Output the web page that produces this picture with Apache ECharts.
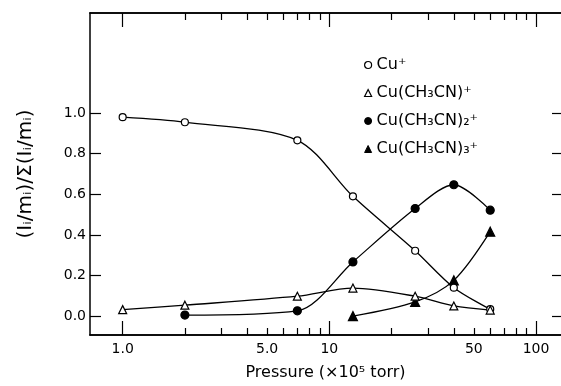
<!DOCTYPE html>
<html>
<head>
<meta charset="utf-8">
<script src="https://cdn.jsdelivr.net/npm/echarts@6/dist/echarts.min.js"></script>
<style>
html,body{margin:0;padding:0;background:#fff;}
#chart{width:561px;height:386px;}
</style>
</head>
<body>
<div id="chart"></div>
<script>
// Pressure (x10^5 torr)
const pressure = [1, 2, 7, 13, 26, 40, 60];
const cuPlus      = [0.98, 0.955, 0.866, 0.59, 0.322, 0.14, 0.034];
const cuMono      = [0.032, 0.054, 0.098, 0.138, 0.098, 0.05, 0.03];
const cuDi        = [null, 0.005, 0.026, 0.267, 0.53, 0.647, 0.522];
const cuTri       = [null, null, null, 0.0, 0.07, 0.176, 0.416];

const seriesNames = ['Cu⁺', 'Cu(CH₃CN)⁺', 'Cu(CH₃CN)₂⁺', 'Cu(CH₃CN)₃⁺'];
const xMajorTicks = [1, 10, 100];
const xMinorTicks = [2, 3, 4, 5, 6, 7, 8, 9, 20, 30, 40, 50, 60, 70, 80, 90];
const xTickLabels = [1, 5, 10, 50, 100];
const yTickValues = [0, 0.2, 0.4, 0.6, 0.8, 1.0];

function pairs(ys) {
  const out = [];
  for (let i = 0; i < pressure.length; i++) {
    if (ys[i] !== null) out.push([pressure[i], ys[i]]);
  }
  return out;
}

const FONT = 'DejaVu Sans';
const xMin = 0.695, xMax = 132;
const yMin = -0.093, yMax = 1.493;

function xAxisBase(extra) {
  return Object.assign({
    type: 'log',
    logBase: 10,
    min: xMin,
    max: xMax,
    splitLine: { show: false },
    axisLine: { show: true, onZero: false, lineStyle: { color: '#000', width: 1.5 } },
    axisLabel: { show: false },
    axisTick: { show: false }
  }, extra);
}

const chart = echarts.init(document.getElementById('chart'), null, { renderer: 'canvas' });

const markerStyle = { color: '#000', borderColor: '#000', borderWidth: 1.2 };
const lineStyle = { color: '#000', width: 1.3 };

chart.setOption({
  animation: false,
  backgroundColor: '#fff',
  textStyle: { fontFamily: FONT, color: '#000' },
  grid: { left: 90, right: 0, top: 13, bottom: 48, containLabel: false, show: false },
  legend: {
    orient: 'vertical',
    left: 359,
    top: 52,
    itemWidth: 7,
    itemHeight: 7,
    itemGap: 12,
    textStyle: { fontFamily: FONT, fontSize: 16, color: '#000' },
    selectedMode: false,
    data: [
      { name: seriesNames[0], icon: 'circle', itemStyle: { color: '#fff', borderColor: '#000', borderWidth: 1.2 } },
      { name: seriesNames[1], icon: 'triangle', itemStyle: { color: '#fff', borderColor: '#000', borderWidth: 1.2 } },
      { name: seriesNames[2], icon: 'circle', itemStyle: { color: '#000', borderColor: '#000', borderWidth: 1 } },
      { name: seriesNames[3], icon: 'triangle', itemStyle: { color: '#000', borderColor: '#000', borderWidth: 1 } }
    ]
  },
  xAxis: [
    xAxisBase({
      position: 'bottom',
      name: 'Pressure (×10⁵ torr)',
      nameLocation: 'middle',
      nameGap: 30,
      nameTextStyle: { fontFamily: FONT, fontSize: 16, color: '#000' },
      axisTick: { show: true, inside: true, length: 14, lineStyle: { color: '#000', width: 1.2 }, customValues: xMajorTicks },
      axisLabel: {
        show: true, margin: 7, fontFamily: FONT, fontSize: 14, color: '#000',
        customValues: xTickLabels,
        formatter: v => (v < 10 ? Number(v).toFixed(1) : String(Math.round(v)))
      }
    }),
    xAxisBase({
      position: 'bottom',
      axisTick: { show: true, inside: true, length: 7, lineStyle: { color: '#000', width: 1.2 }, customValues: xMinorTicks }
    }),
    xAxisBase({
      position: 'top',
      axisTick: { show: true, inside: true, length: 14, lineStyle: { color: '#000', width: 1.2 }, customValues: xMajorTicks }
    }),
    xAxisBase({
      position: 'top',
      axisTick: { show: true, inside: true, length: 7, lineStyle: { color: '#000', width: 1.2 }, customValues: xMinorTicks }
    })
  ],
  yAxis: [
    {
      type: 'value',
      position: 'left',
      min: yMin, max: yMax,
      splitLine: { show: false },
      axisLine: { show: true, onZero: false, lineStyle: { color: '#000', width: 1.5 } },
      axisTick: { show: true, inside: true, length: 11, lineStyle: { color: '#000', width: 1.2 }, customValues: yTickValues },
      axisLabel: { show: true, margin: 4, fontFamily: FONT, fontSize: 14, color: '#000',
                   customValues: yTickValues, formatter: v => Number(v).toFixed(1) },
      name: '(Iᵢ/mᵢ)/Σ(Iᵢ/mᵢ)',
      nameLocation: 'middle',
      nameGap: 54,
      nameRotate: 90,
      nameTextStyle: { fontFamily: FONT, fontSize: 20, color: '#000' }
    },
    {
      type: 'value',
      position: 'right',
      min: yMin, max: yMax,
      splitLine: { show: false },
      axisLine: { show: false, onZero: false },
      axisTick: { show: true, inside: true, length: 9, lineStyle: { color: '#000', width: 1.2 }, customValues: yTickValues },
      axisLabel: { show: false }
    }
  ],
  series: [
    {
      name: seriesNames[0], type: 'line', xAxisIndex: 0, yAxisIndex: 0,
      data: pairs(cuPlus), smooth: 0.3,
      symbol: 'circle', symbolSize: 7,
      itemStyle: { color: '#fff', borderColor: '#000', borderWidth: 1.2 },
      lineStyle: lineStyle, z: 3
    },
    {
      name: seriesNames[1], type: 'line', xAxisIndex: 0, yAxisIndex: 0,
      data: pairs(cuMono), smooth: 0.3,
      symbol: 'triangle', symbolSize: 8,
      itemStyle: { color: '#fff', borderColor: '#000', borderWidth: 1.2 },
      lineStyle: lineStyle, z: 3
    },
    {
      name: seriesNames[2], type: 'line', xAxisIndex: 0, yAxisIndex: 0,
      data: pairs(cuDi), smooth: 0.3,
      symbol: 'circle', symbolSize: 8,
      itemStyle: markerStyle,
      lineStyle: lineStyle, z: 2
    },
    {
      name: seriesNames[3], type: 'line', xAxisIndex: 0, yAxisIndex: 0,
      data: pairs(cuTri), smooth: 0.3,
      symbol: 'triangle', symbolSize: 9,
      itemStyle: markerStyle,
      lineStyle: lineStyle, z: 2
    }
  ]
});
</script>
</body>
</html>
